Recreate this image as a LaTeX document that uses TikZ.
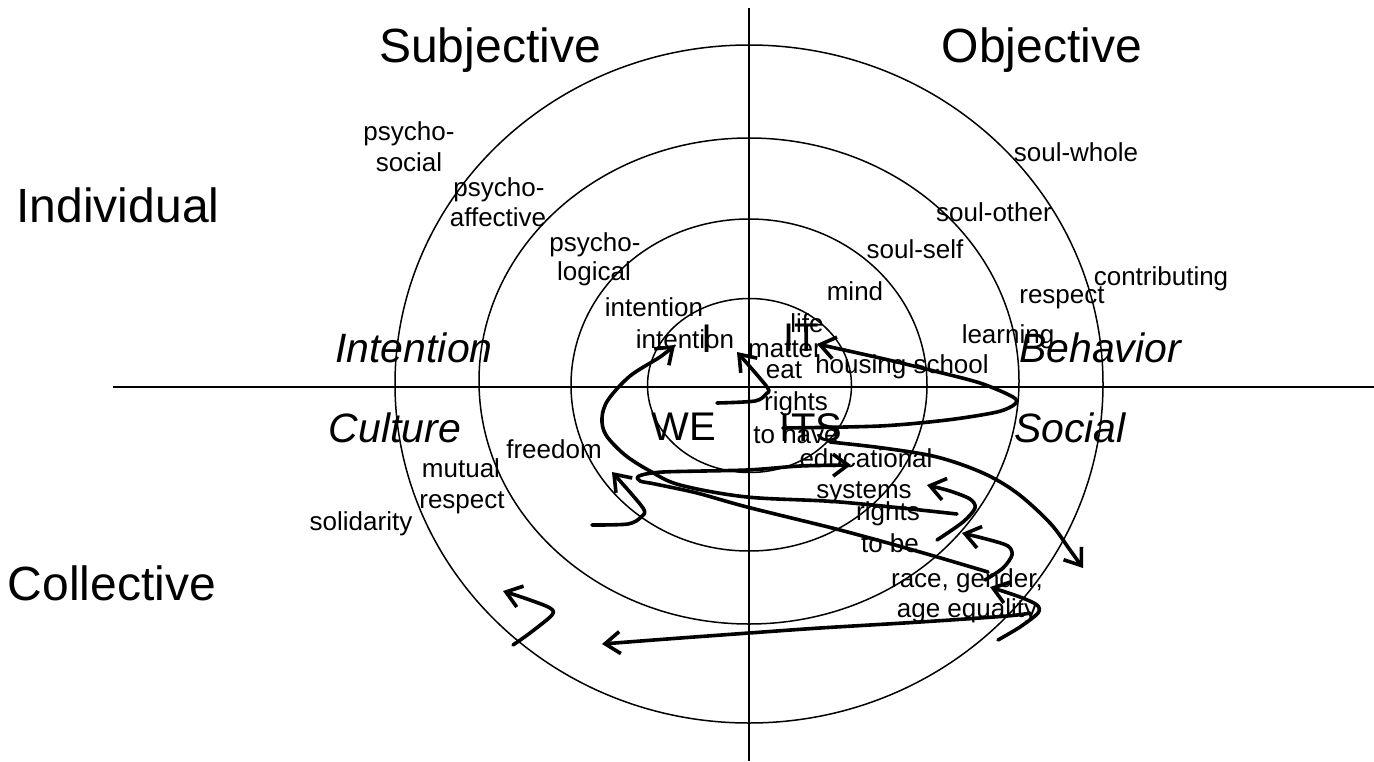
\documentclass[tikz,border=0pt]{standalone}
\usepackage{fontspec}
\setmainfont{Liberation Sans}
\usetikzlibrary{arrows.meta}
\begin{document}
\begin{tikzpicture}[x=1pt,y=-1pt,
  lbl/.style={anchor=base, inner sep=0pt, font=\fontsize{26}{31}\selectfont},
  quad/.style={anchor=base, inner sep=0pt, font=\fontsize{48}{56}\selectfont},
  dirn/.style={anchor=base, inner sep=0pt, font=\fontsize{41}{49}\selectfont\itshape},
  core/.style={anchor=base, inner sep=0pt, font=\fontsize{40}{48}\selectfont},
  ring/.style={line width=1.5pt},
  axisline/.style={line width=2.4pt},
  arr/.style={line width=3.6pt, line cap=round, line join=round, -{Straight Barb[length=15pt,width=22pt]}}
]
\useasboundingbox (0,0) rectangle (1374,761);
\fill[white] (0,0) rectangle (1374,761);

% quadrant titles
\node[quad] (subj) at (490,62) {Subjective};
\node[quad] (obj) at (1042,62) {Objective};
\node[quad] (indiv) at (118,222) {Individual};
\node[quad] (coll) at (112,600) {Collective};

% directions
\node[dirn] (intent) at (414,362) {Intention};
\node[dirn] (behav) at (1100,362) {Behavior};
\node[dirn] (cult) at (395,442) {Culture};
\node[dirn] (soc) at (1070,442) {Social};

% core labels
\node[core] (cI) at (707,352) {I};
\node[core] (cIT) at (801,351) {IT};
\node[core] (cWE) at (684,440) {WE};
\node[core] (cITS) at (811,441) {ITS};

% upper left labels
\node[lbl] (ps1) at (409,140) {psycho-};
\node[lbl] (ps2) at (409,171) {social};
\node[lbl] (pa1) at (499,196) {psycho-};
\node[lbl] (pa2) at (498,226) {affective};
\node[lbl] (pl1) at (595,251) {psycho-};
\node[lbl] (pl2) at (594,280) {logical};
\node[lbl] (in1) at (654,316) {intention};
\node[lbl] (in2) at (685,348) {intention};

% upper right labels
\node[lbl] (sw) at (1076,161) {soul-whole};
\node[lbl] (so) at (994,221) {soul-other};
\node[lbl] (ss) at (915,258) {soul-self};
\node[lbl] (contr) at (1161,285) {contributing};
\node[lbl] (resp) at (1062,303) {respect};
\node[lbl] (mind) at (855,300) {mind};
\node[lbl] (learn) at (1008,343) {learning};
\node[lbl] (life) at (807,332) {life};
\node[lbl] (matt) at (785,357) {matter};
\node[lbl] (eat) at (784,378) {eat};
\node[lbl] (hs) at (902,373) {housing school};

% lower labels
\node[lbl] (rh1) at (796,410) {rights};
\node[lbl] (rh2) at (796,443) {to have};
\node[lbl] (ed1) at (866,467) {educational};
\node[lbl] (ed2) at (864,498) {systems};
\node[lbl] (rb1) at (888,520) {rights};
\node[lbl] (rb2) at (890,552) {to be};
\node[lbl] (rg1) at (967,587) {race, gender,};
\node[lbl] (rg2) at (967,617) {age equality};
\node[lbl] (free) at (554,458) {freedom};
\node[lbl] (mu1) at (461,477) {mutual};
\node[lbl] (mu2) at (462,508) {respect};
\node[lbl] (sol) at (361,530) {solidarity};

% rings
\draw[ring] (749.5,385.5) ellipse [x radius=102, y radius=87];
\draw[ring] (749,385) ellipse [x radius=178, y radius=166];
\draw[ring] (749,381) ellipse [x radius=270, y radius=243];
\draw[ring] (749,384) ellipse [x radius=354, y radius=339];

% axes
\coordinate (hL) at (113,387);
\coordinate (hR) at (1374,387);
\coordinate (vT) at (749,8);
\coordinate (vB) at (749,761);
\draw[axisline] (hL) -- (hR);
\draw[axisline] (vT) -- (vB);

% hand-drawn spiral strokes
\draw[arr] plot[smooth, tension=0.5] coordinates {(717,403) (755,401) (766,394) (767,387) (737,352)};
\draw[arr] plot[smooth, tension=0.5] coordinates {(783,428) (880,426) (947,420) (997,412) (1015,404) (1013,397) (980,383) (930,370) (880,358) (817,344)};
\draw[arr] plot[smooth, tension=0.55] coordinates {(957,514) (840,502) (747,497) (680,485) (650,471) (625,455) (606,435) (602,418) (608,400) (630,376) (660,357) (675,345)};
\draw[arr] plot[smooth, tension=0.5] coordinates {(988,572) (920,552) (840,530) (747,507) (697,493) (655,484) (640,481) (639,476) (663,472) (747,470) (800,466) (851,465)};
\draw[arr] plot[smooth, tension=0.5] coordinates {(592,525) (628,524) (641,517) (643,508) (612,472)};
\draw[arr] plot[smooth, tension=0.55] coordinates {(830,442) (883,448) (937,457) (983,473) (1017,493) (1050,523) (1070,550) (1083,568)};
\draw[arr] plot[smooth, tension=0.5] coordinates {(937,540) (963,522) (975,508) (970,499) (950,491) (927,485)};
\draw[arr] plot[smooth, tension=0.5] coordinates {(985,580) (1003,568) (1012,555) (1008,546) (990,540) (962,533)};
\draw[arr] plot[smooth, tension=0.5] coordinates {(998,640) (1020,627) (1038,613) (1037,605) (1020,597) (990,587)};
\draw[arr] plot[smooth, tension=0.5] coordinates {(1030,613) (1007,616) (920,622) (820,628) (749,633) (667,639) (602,644)};
\draw[arr] plot[smooth, tension=0.5] coordinates {(513,645) (530,633) (552,615) (550,608) (530,600) (503,591)};
\end{tikzpicture}
\end{document}
